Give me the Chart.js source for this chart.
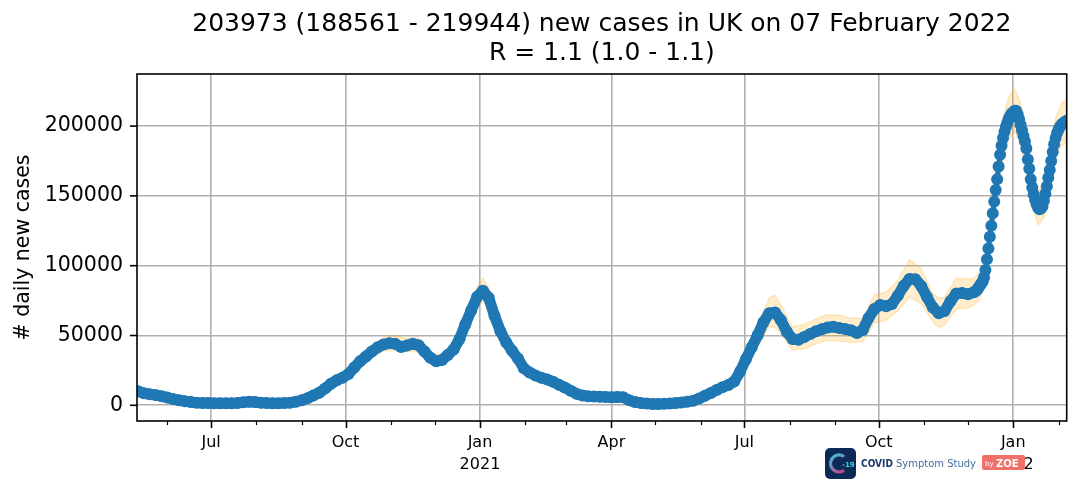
<!DOCTYPE html>
<html>
<head>
<meta charset="utf-8">
<title>UK daily new cases</title>
<script src="https://cdn.jsdelivr.net/npm/chart.js"></script>
<style>
  html, body { margin: 0; padding: 0; background: #fff; }
  #wrap { width: 1082px; height: 489px; }
</style>
</head>
<body>
<div id="wrap"><canvas id="casesChart" width="1082" height="489"></canvas></div>
<script>
// Values. Days are counted from 12 May 2020 (day 0).
const startDate = Date.UTC(2020, 4, 12);

const caseDay = [
    0, 4, 8, 12, 16, 20, 24, 28, 32, 36, 40, 44, 48, 52, 56, 60, 64, 68, 72, 76,
    80, 84, 88, 92, 96, 100, 104, 108, 112, 116, 120, 124, 128, 132, 136, 140, 144, 148, 152, 156,
    160, 164, 168, 172, 176, 180, 184, 188, 192, 196, 200, 204, 208, 212, 216, 220, 224, 228, 232, 236,
    240, 244, 248, 252, 256, 260, 264, 268, 272, 276, 280, 284, 288, 292, 296, 300, 304, 308, 312, 316,
    320, 324, 328, 332, 336, 340, 344, 348, 352, 356, 360, 364, 368, 372, 376, 380, 384, 388, 392, 396,
    400, 404, 408, 412, 416, 420, 424, 428, 432, 436, 440, 444, 448, 452, 456, 460, 464, 468, 472, 476,
    480, 484, 488, 492, 496, 500, 504, 508, 512, 516, 520, 524, 528, 532, 536, 540, 544, 548, 552, 556,
    560, 564, 568, 572,
    573, 574, 575, 576, 577, 578, 579, 580, 581, 582, 583, 584, 585, 586, 587, 588, 589, 590, 591, 592,
    593, 594, 595, 596, 597, 598, 599, 600, 601, 602, 603, 604, 605, 606, 607, 608, 609, 610, 611, 612,
    613, 614, 615, 616, 617, 618, 619, 620, 621, 622, 623, 624, 625, 626, 627, 628, 629, 630, 631, 632,
    633, 634, 635, 636
];

const cases = [
    10000, 8600, 7900, 7300, 6500, 5500, 4500, 3600, 2900, 2300, 1900, 1700, 1600, 1500, 1500, 1500, 1500, 1600, 2200, 2500,
    2300, 1900, 1600, 1500, 1500, 1600, 1900, 2500, 3600, 5000, 7000, 9000, 12000, 15500, 18000, 19800, 22500, 27000, 31500, 35000,
    38500, 41500, 43500, 44500, 44000, 41800, 42800, 44000, 43000, 38500, 34000, 31500, 32500, 36000, 40000, 47500, 58000, 68000, 77500, 82000,
    77000, 64000, 53000, 45000, 39000, 33500, 26500, 23500, 21300, 19800, 18500, 16800, 14800, 12800, 10500, 8300, 7000, 6500, 6300, 6100,
    5900, 5700, 6000, 5800, 3700, 2400, 1700, 1200, 1000, 1000, 1100, 1300, 1600, 2000, 2600, 3300, 4800, 6800, 8800, 11000,
    13000, 14500, 17000, 24000, 33000, 41500, 50000, 59500, 66000, 66500, 61000, 52700, 47500, 47000, 49000, 51000, 53000, 54500, 55800, 56200,
    55300, 54600, 53700, 51800, 54000, 62500, 69000, 71800, 71000, 72500, 78500, 85500, 90500, 90300, 85500, 77500, 70000, 66000, 67500, 74500,
    80000, 80500, 79500, 81000,
    81500, 82500, 84000, 85500, 87000, 88500, 91500, 96900, 104600, 112400, 120800, 128600, 137500, 145900, 154300, 161900, 171000, 179400, 186000, 191500,
    196000, 199500, 202500, 205500, 207500, 209000, 210000, 211000, 211000, 208500, 205000, 201000, 197000, 193000, 189000, 184000, 176000, 169500, 162000, 156000,
    151000, 147000, 144000, 141500, 140500, 141000, 142500, 146500, 151500, 157000, 163000, 168500, 175000, 181500, 187000, 191500, 195000, 197500, 199500, 201000,
    202000, 202800, 203400, 203973
];

// confidence band
const bandDay = [
    0, 8, 16, 24, 32, 40, 48, 56, 64, 72, 80, 88, 96, 104, 112, 120, 128, 136, 144, 152,
    160, 168, 176, 184, 192, 200, 208, 216, 224, 232, 236, 240, 248, 256, 264, 272, 280, 288, 296, 304,
    312, 320, 328, 336, 344, 352, 360, 368, 376, 384, 392, 400, 408, 416, 424, 432, 436, 440, 448, 456,
    464, 472, 480, 488, 496, 504, 512, 520, 528, 536, 544, 548, 552, 560, 568, 572, 576, 580, 584, 588,
    592, 596, 600, 604, 608, 612, 616, 620, 624, 628, 632, 636
];

const casesLower = [
    9000, 7100, 5800, 4000, 2600, 1700, 1400, 1300, 1300, 1900, 2000, 1400, 1300, 1700, 3200, 6200, 10600, 16000, 20000, 28000,
    34500, 39000, 39500, 38500, 38500, 30500, 29000, 36000, 52500, 70000, 74000, 70000, 48000, 35500, 24000, 19300, 16800, 13400, 9500, 6300,
    5700, 5300, 5400, 3300, 1500, 900, 1000, 1400, 2300, 4200, 7800, 11500, 15000, 29000, 43000, 56000, 56000, 51000, 39500, 40500,
    44000, 46500, 46000, 45000, 45500, 59000, 61000, 67500, 77500, 73000, 60000, 55500, 57500, 69000, 69500, 71500, 76000, 87000, 117000, 149000,
    177000, 191000, 196000, 187000, 170000, 143000, 129000, 134000, 154500, 177000, 186000, 188561
];

const casesUpper = [
    11000, 8700, 7200, 5000, 3200, 2100, 1800, 1700, 1700, 2500, 2600, 1800, 1700, 2100, 4000, 7800, 13400, 20500, 25000, 35000,
    43000, 48500, 50000, 48000, 48000, 37500, 36000, 44000, 63500, 85000, 91000, 84500, 58000, 42500, 29000, 23300, 20200, 16200, 11500, 7700,
    6900, 6500, 6600, 4100, 1900, 1100, 1200, 1800, 2900, 5400, 9800, 14500, 19000, 37000, 57000, 77000, 79000, 72000, 56000, 58000,
    62000, 65000, 64500, 62500, 62500, 79000, 81000, 89500, 104500, 98000, 80000, 76500, 77500, 91000, 90500, 91000, 95000, 107000, 140000, 175000,
    206000, 221000, 226500, 217000, 199000, 169000, 154000, 159000, 181500, 206000, 216000, 219944
];

const yTicks = [0, 50000, 100000, 150000, 200000];
const monthNames = ['Jan', 'Feb', 'Mar', 'Apr', 'May', 'Jun', 'Jul', 'Aug', 'Sep', 'Oct', 'Nov', 'Dec'];
const rValue = '1.1';
const rLow = '1.0';
const rHigh = '1.1';
const reportDate = '07 February 2022';

const X_MIN = -0.74;
const X_MAX = 635.6;
const Y_MIN = -11250;
const Y_MAX = 237320;

const BLUE = '#1f77b4';
const BAND = 'rgba(255, 165, 0, 0.2)';
const GRID = '#b0b0b0';
const FONT = 'DejaVu Sans';

Chart.defaults.font.family = FONT;
Chart.defaults.color = '#000';

// month starts inside the axis range (minor ticks), quarters get labels
const DAY = 86400000;
const monthTicks = [];
for (let yr = 2020; yr <= 2022; yr++) {
    for (let m = 0; m < 12; m++) {
        const d = (Date.UTC(yr, m, 1) - startDate) / DAY;
        if (d >= X_MIN && d <= X_MAX) {
            monthTicks.push({ value: d, month: m, year: yr });
        }
    }
}
const isQuarter = (t) => t.month % 3 === 0;

const last = cases.length - 1;
const titleLines = [
    `${cases[last]} (${casesLower[casesLower.length - 1]} - ${casesUpper[casesUpper.length - 1]}) new cases in UK on ${reportDate}`,
    `R = ${rValue} (${rLow} - ${rHigh})`
];

// Spines and tick marks, drawn like matplotlib (major + minor)
const axesFrame = {
    id: 'axesFrame',
    afterDatasetsDraw(chart) {
        const { ctx, chartArea: a, scales: { x, y } } = chart;
        ctx.save();
        ctx.strokeStyle = '#000';
        monthTicks.forEach(t => {
            const px = Math.round(x.getPixelForValue(t.value)) + 0.5;
            const major = isQuarter(t);
            ctx.lineWidth = major ? 1.6 : 1.2;
            ctx.beginPath();
            ctx.moveTo(px, a.bottom);
            ctx.lineTo(px, a.bottom + (major ? 7.1 : 4.1));
            ctx.stroke();
        });
        ctx.lineWidth = 1.6;
        yTicks.forEach(v => {
            const py = y.getPixelForValue(v);
            ctx.beginPath();
            ctx.moveTo(a.left, py);
            ctx.lineTo(a.left - 7.1, py);
            ctx.stroke();
        });
        ctx.strokeRect(a.left, a.top, a.right - a.left, a.bottom - a.top);
        ctx.restore();
    }
};

// COVID Symptom Study / ZOE badge in the bottom right corner
const zoeLogo = {
    id: 'zoeLogo',
    afterDraw(chart) {
        const ctx = chart.ctx;
        ctx.save();
        ctx.fillStyle = '#0d2a57';
        ctx.beginPath();
        ctx.roundRect(825, 448, 31, 31, 5);
        ctx.fill();

        const g = ctx.createLinearGradient(830, 452, 846, 476);
        g.addColorStop(0, '#27d3e8');
        g.addColorStop(1, '#e8247c');
        ctx.strokeStyle = g;
        ctx.lineWidth = 3.2;
        ctx.beginPath();
        ctx.arc(839, 463.5, 8.5, 0.3 * Math.PI, 1.7 * Math.PI);
        ctx.stroke();

        ctx.fillStyle = '#3fd0e0';
        ctx.font = 'bold 7px ' + FONT;
        ctx.textBaseline = 'alphabetic';
        ctx.fillText('-19', 842, 466.5);

        ctx.fillStyle = '#1b3a6b';
        ctx.font = 'bold 10px ' + FONT;
        ctx.fillText('COVID', 861, 467, 32);
        ctx.fillStyle = '#3f6e9e';
        ctx.font = '10px ' + FONT;
        ctx.fillText('Symptom Study', 896, 467, 80);

        ctx.fillStyle = '#f36f6a';
        ctx.beginPath();
        ctx.roundRect(982, 455, 43, 15, 2);
        ctx.fill();
        ctx.fillStyle = '#fff';
        ctx.font = '7px ' + FONT;
        ctx.fillText('by', 985, 466);
        ctx.font = 'bold 10px ' + FONT;
        ctx.fillText('ZOE', 996, 467, 25);
        ctx.restore();
    }
};

const caseCtx = document.getElementById('casesChart');
new Chart(caseCtx, {
    type: 'line',
    data: {
        datasets: [{
            label: 'new cases',
            data: caseDay.map((d, i) => ({ x: d, y: cases[i] })),
            borderColor: BLUE,
            backgroundColor: BLUE,
            borderWidth: 11,
            // daily markers in the late 2021 surge stay visible as separate dots
            segment: {
                borderWidth: (c) => (c.p0.parsed.x >= 579 ? 5 : 11)
            },
            borderJoinStyle: 'round',
            borderCapStyle: 'round',
            pointRadius: 6,
            pointHoverRadius: 6,
            pointBorderWidth: 0,
            pointBackgroundColor: BLUE,
            fill: false,
            order: 0,
            clip: 0
        }, {
            label: 'upper',
            data: bandDay.map((d, i) => ({ x: d, y: casesUpper[i] })),
            borderColor: BAND,
            backgroundColor: BAND,
            borderWidth: 1.5,
            pointRadius: 0,
            fill: '+1',
            order: 1,
            clip: 0
        }, {
            label: 'lower',
            data: bandDay.map((d, i) => ({ x: d, y: casesLower[i] })),
            borderColor: BAND,
            borderWidth: 1.5,
            pointRadius: 0,
            fill: false,
            order: 2,
            clip: 0
        }]
    },
    options: {
        responsive: false,
        animation: false,
        devicePixelRatio: 1,
        events: [],
        layout: {
            padding: { left: 0, right: 15.3, top: 0, bottom: 0 }
        },
        plugins: {
            legend: { display: false },
            tooltip: { enabled: false },
            title: {
                display: true,
                fullSize: false,
                text: titleLines,
                color: '#000',
                font: { family: FONT, size: 25, weight: 'normal', lineHeight: 1.16 },
                padding: { top: 9.5, bottom: 6.5 }
            }
        },
        scales: {
            x: {
                type: 'linear',
                min: X_MIN,
                max: X_MAX,
                afterBuildTicks: (scale) => {
                    scale.ticks = monthTicks.map(t => ({ value: t.value }));
                },
                afterFit: (scale) => { scale.height = 68; },
                border: { display: false },
                grid: {
                    color: (c) => (c.index !== undefined && monthTicks[c.index] && isQuarter(monthTicks[c.index])) ? GRID : 'rgba(0,0,0,0)',
                    lineWidth: 1.6,
                    drawTicks: false
                },
                ticks: {
                    autoSkip: false,
                    maxRotation: 0,
                    padding: 11,
                    color: '#000',
                    font: { family: FONT, size: 16, lineHeight: 1.35 },
                    callback: (value, index) => {
                        const t = monthTicks[index];
                        if (!t || !isQuarter(t)) return '';
                        return t.month === 0 ? [monthNames[0], String(t.year)] : monthNames[t.month];
                    }
                }
            },
            y: {
                min: Y_MIN,
                max: Y_MAX,
                afterBuildTicks: (scale) => {
                    scale.ticks = yTicks.map(v => ({ value: v }));
                },
                afterFit: (scale) => { scale.width = 137; },
                border: { display: false },
                grid: {
                    color: GRID,
                    lineWidth: 1.6,
                    drawTicks: false
                },
                ticks: {
                    padding: 14,
                    color: '#000',
                    font: { family: FONT, size: 20.5 },
                    callback: (value) => String(value)
                },
                title: {
                    display: true,
                    text: '# daily new cases',
                    color: '#000',
                    font: { family: FONT, size: 20.5 },
                    padding: { top: 11.7, bottom: 0 }
                }
            }
        }
    },
    plugins: [axesFrame, zoeLogo]
});
</script>
</body>
</html>
